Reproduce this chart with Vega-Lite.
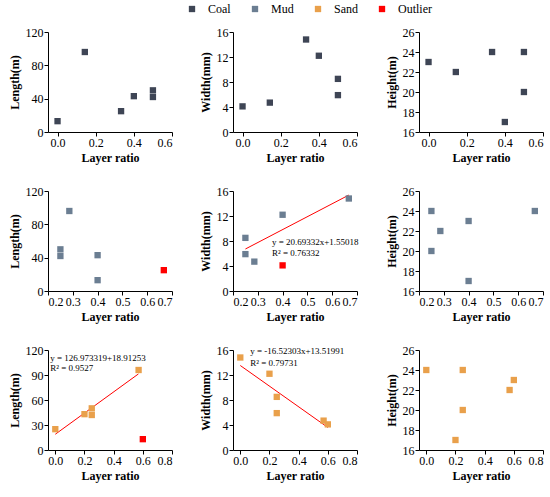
{
  "$schema": "https://vega.github.io/schema/vega-lite/v6.json",
  "padding": {"left": 8, "top": 3, "right": 4, "bottom": 4},
  "datasets": {
    "pts": [
      {"p": "a", "x": 0, "y": 13, "cls": "Coal"},
      {"p": "a", "x": 0.143, "y": 96, "cls": "Coal"},
      {"p": "a", "x": 0.333, "y": 25, "cls": "Coal"},
      {"p": "a", "x": 0.4, "y": 43, "cls": "Coal"},
      {"p": "a", "x": 0.5, "y": 50, "cls": "Coal"},
      {"p": "a", "x": 0.5, "y": 42, "cls": "Coal"},
      {"p": "b", "x": 0, "y": 4.1, "cls": "Coal"},
      {"p": "b", "x": 0.143, "y": 4.7, "cls": "Coal"},
      {"p": "b", "x": 0.333, "y": 14.8, "cls": "Coal"},
      {"p": "b", "x": 0.4, "y": 12.2, "cls": "Coal"},
      {"p": "b", "x": 0.5, "y": 8.5, "cls": "Coal"},
      {"p": "b", "x": 0.5, "y": 5.9, "cls": "Coal"},
      {"p": "c", "x": 0, "y": 23, "cls": "Coal"},
      {"p": "c", "x": 0.143, "y": 22, "cls": "Coal"},
      {"p": "c", "x": 0.333, "y": 24, "cls": "Coal"},
      {"p": "c", "x": 0.4, "y": 17, "cls": "Coal"},
      {"p": "c", "x": 0.5, "y": 24, "cls": "Coal"},
      {"p": "c", "x": 0.5, "y": 20, "cls": "Coal"},
      {"p": "d", "x": 0.25, "y": 50, "cls": "Mud"},
      {"p": "d", "x": 0.25, "y": 42, "cls": "Mud"},
      {"p": "d", "x": 0.286, "y": 96, "cls": "Mud"},
      {"p": "d", "x": 0.4, "y": 43, "cls": "Mud"},
      {"p": "d", "x": 0.4, "y": 13, "cls": "Mud"},
      {"p": "d", "x": 0.667, "y": 25, "cls": "Outlier"},
      {"p": "e", "x": 0.25, "y": 8.5, "cls": "Mud"},
      {"p": "e", "x": 0.25, "y": 5.9, "cls": "Mud"},
      {"p": "e", "x": 0.286, "y": 4.7, "cls": "Mud"},
      {"p": "e", "x": 0.4, "y": 12.2, "cls": "Mud"},
      {"p": "e", "x": 0.667, "y": 14.8, "cls": "Mud"},
      {"p": "e", "x": 0.4, "y": 4.1, "cls": "Outlier"},
      {"p": "f", "x": 0.25, "y": 24, "cls": "Mud"},
      {"p": "f", "x": 0.25, "y": 20, "cls": "Mud"},
      {"p": "f", "x": 0.286, "y": 22, "cls": "Mud"},
      {"p": "f", "x": 0.4, "y": 23, "cls": "Mud"},
      {"p": "f", "x": 0.4, "y": 17, "cls": "Mud"},
      {"p": "f", "x": 0.667, "y": 24, "cls": "Mud"},
      {"p": "g", "x": 0, "y": 25, "cls": "Sand"},
      {"p": "g", "x": 0.2, "y": 43, "cls": "Sand"},
      {"p": "g", "x": 0.25, "y": 50, "cls": "Sand"},
      {"p": "g", "x": 0.25, "y": 42, "cls": "Sand"},
      {"p": "g", "x": 0.571, "y": 96, "cls": "Sand"},
      {"p": "g", "x": 0.6, "y": 13, "cls": "Outlier"},
      {"p": "h", "x": 0, "y": 14.8, "cls": "Sand"},
      {"p": "h", "x": 0.2, "y": 12.2, "cls": "Sand"},
      {"p": "h", "x": 0.25, "y": 8.5, "cls": "Sand"},
      {"p": "h", "x": 0.25, "y": 5.9, "cls": "Sand"},
      {"p": "h", "x": 0.571, "y": 4.7, "cls": "Sand"},
      {"p": "h", "x": 0.6, "y": 4.1, "cls": "Sand"},
      {"p": "i", "x": 0, "y": 24, "cls": "Sand"},
      {"p": "i", "x": 0.2, "y": 17, "cls": "Sand"},
      {"p": "i", "x": 0.25, "y": 24, "cls": "Sand"},
      {"p": "i", "x": 0.25, "y": 20, "cls": "Sand"},
      {"p": "i", "x": 0.571, "y": 22, "cls": "Sand"},
      {"p": "i", "x": 0.6, "y": 23, "cls": "Sand"}
    ],
    "fits": [
      {"p": "e", "x": 0.25, "y": 6.72},
      {"p": "e", "x": 0.667, "y": 15.35},
      {"p": "g", "x": 0, "y": 18.9},
      {"p": "g", "x": 0.57, "y": 91.3},
      {"p": "h", "x": 0, "y": 13.52},
      {"p": "h", "x": 0.6, "y": 3.61}
    ],
    "notes": [
      {"p": "e", "x": 0.357, "y": 7.84, "t": "y = 20.69332x+1.55018"},
      {"p": "e", "x": 0.357, "y": 6.08, "t": "R² = 0.76332"},
      {"p": "g", "x": -0.035, "y": 111, "t": "y = 126.973319+18.91253"},
      {"p": "g", "x": -0.035, "y": 98, "t": "R² = 0.9527"},
      {"p": "h", "x": 0.068, "y": 15.8, "t": "y = -16.52303x+13.51991"},
      {"p": "h", "x": 0.068, "y": 14.0, "t": "R² = 0.79731"}
    ]
  },
  "columns": 3,
  "spacing": {"row": 22, "column": 26},
  "concat": [
    {
      "width": 124, "height": 100,
      "encoding": {
        "x": {"field": "x", "type": "quantitative", "scale": {"domain": [-0.05, 0.6]}, "axis": {"values": [0, 0.2, 0.4, 0.6], "format": ".1f"}, "title": "Layer ratio"},
        "y": {"field": "y", "type": "quantitative", "scale": {"domain": [0, 120]}, "axis": {"values": [0, 40, 80, 120]}, "title": "Length(m)"}
      },
      "layer": [
        {"data": {"name": "pts"}, "transform": [{"filter": "datum.p == 'a'"}],
         "mark": {"type": "point", "shape": "square", "filled": true, "opacity": 1, "size": 40},
         "encoding": {"color": {"field": "cls", "type": "nominal", "scale": {"domain": ["Coal", "Mud", "Sand", "Outlier"], "range": ["#3e4555", "#6b7e92", "#e9a04b", "#ff0000"]}, "title": null}}}
      ]
    },
    {
      "width": 124, "height": 100,
      "encoding": {
        "x": {"field": "x", "type": "quantitative", "scale": {"domain": [-0.05, 0.6]}, "axis": {"values": [0, 0.2, 0.4, 0.6], "format": ".1f"}, "title": "Layer ratio"},
        "y": {"field": "y", "type": "quantitative", "scale": {"domain": [0, 16]}, "axis": {"values": [0, 4, 8, 12, 16]}, "title": "Width(mm)"}
      },
      "layer": [
        {"data": {"name": "pts"}, "transform": [{"filter": "datum.p == 'b'"}],
         "mark": {"type": "point", "shape": "square", "filled": true, "opacity": 1, "size": 40},
         "encoding": {"color": {"field": "cls", "type": "nominal", "title": null}}}
      ]
    },
    {
      "width": 124, "height": 100,
      "encoding": {
        "x": {"field": "x", "type": "quantitative", "scale": {"domain": [-0.05, 0.6]}, "axis": {"values": [0, 0.2, 0.4, 0.6], "format": ".1f"}, "title": "Layer ratio"},
        "y": {"field": "y", "type": "quantitative", "scale": {"domain": [16, 26]}, "axis": {"values": [16, 18, 20, 22, 24, 26]}, "title": "Height(m)"}
      },
      "layer": [
        {"data": {"name": "pts"}, "transform": [{"filter": "datum.p == 'c'"}],
         "mark": {"type": "point", "shape": "square", "filled": true, "opacity": 1, "size": 40},
         "encoding": {"color": {"field": "cls", "type": "nominal", "title": null}}}
      ]
    },
    {
      "width": 124, "height": 100,
      "encoding": {
        "x": {"field": "x", "type": "quantitative", "scale": {"domain": [0.2, 0.7]}, "axis": {"values": [0.2, 0.3, 0.4, 0.5, 0.6, 0.7], "format": ".1f"}, "title": "Layer ratio"},
        "y": {"field": "y", "type": "quantitative", "scale": {"domain": [0, 120]}, "axis": {"values": [0, 40, 80, 120]}, "title": "Length(m)"}
      },
      "layer": [
        {"data": {"name": "pts"}, "transform": [{"filter": "datum.p == 'd'"}],
         "mark": {"type": "point", "shape": "square", "filled": true, "opacity": 1, "size": 40},
         "encoding": {"color": {"field": "cls", "type": "nominal", "title": null}}}
      ]
    },
    {
      "width": 124, "height": 100,
      "encoding": {
        "x": {"field": "x", "type": "quantitative", "scale": {"domain": [0.2, 0.7]}, "axis": {"values": [0.2, 0.3, 0.4, 0.5, 0.6, 0.7], "format": ".1f"}, "title": "Layer ratio"},
        "y": {"field": "y", "type": "quantitative", "scale": {"domain": [0, 16]}, "axis": {"values": [0, 4, 8, 12, 16]}, "title": "Width(mm)"}
      },
      "layer": [
        {"data": {"name": "fits"}, "transform": [{"filter": "datum.p == 'e'"}],
         "mark": {"type": "line", "color": "#ff0000", "strokeWidth": 1}},
        {"data": {"name": "pts"}, "transform": [{"filter": "datum.p == 'e'"}],
         "mark": {"type": "point", "shape": "square", "filled": true, "opacity": 1, "size": 40},
         "encoding": {"color": {"field": "cls", "type": "nominal", "title": null}}},
        {"data": {"name": "notes"}, "transform": [{"filter": "datum.p == 'e'"}],
         "mark": {"type": "text", "align": "left", "baseline": "middle", "font": "Liberation Serif", "fontSize": 9, "color": "black"},
         "encoding": {"text": {"field": "t"}}}
      ]
    },
    {
      "width": 124, "height": 100,
      "encoding": {
        "x": {"field": "x", "type": "quantitative", "scale": {"domain": [0.2, 0.7]}, "axis": {"values": [0.2, 0.3, 0.4, 0.5, 0.6, 0.7], "format": ".1f"}, "title": "Layer ratio"},
        "y": {"field": "y", "type": "quantitative", "scale": {"domain": [16, 26]}, "axis": {"values": [16, 18, 20, 22, 24, 26]}, "title": "Height(m)"}
      },
      "layer": [
        {"data": {"name": "pts"}, "transform": [{"filter": "datum.p == 'f'"}],
         "mark": {"type": "point", "shape": "square", "filled": true, "opacity": 1, "size": 40},
         "encoding": {"color": {"field": "cls", "type": "nominal", "title": null}}}
      ]
    },
    {
      "width": 124, "height": 100,
      "encoding": {
        "x": {"field": "x", "type": "quantitative", "scale": {"domain": [-0.05, 0.8]}, "axis": {"values": [0, 0.2, 0.4, 0.6, 0.8], "format": ".1f"}, "title": "Layer ratio"},
        "y": {"field": "y", "type": "quantitative", "scale": {"domain": [0, 120]}, "axis": {"values": [0, 30, 60, 90, 120]}, "title": "Length(m)"}
      },
      "layer": [
        {"data": {"name": "fits"}, "transform": [{"filter": "datum.p == 'g'"}],
         "mark": {"type": "line", "color": "#ff0000", "strokeWidth": 1}},
        {"data": {"name": "pts"}, "transform": [{"filter": "datum.p == 'g'"}],
         "mark": {"type": "point", "shape": "square", "filled": true, "opacity": 1, "size": 40},
         "encoding": {"color": {"field": "cls", "type": "nominal", "title": null}}},
        {"data": {"name": "notes"}, "transform": [{"filter": "datum.p == 'g'"}],
         "mark": {"type": "text", "align": "left", "baseline": "middle", "font": "Liberation Serif", "fontSize": 9, "color": "black"},
         "encoding": {"text": {"field": "t"}}}
      ]
    },
    {
      "width": 124, "height": 100,
      "encoding": {
        "x": {"field": "x", "type": "quantitative", "scale": {"domain": [-0.05, 0.8]}, "axis": {"values": [0, 0.2, 0.4, 0.6, 0.8], "format": ".1f"}, "title": "Layer ratio"},
        "y": {"field": "y", "type": "quantitative", "scale": {"domain": [0, 16]}, "axis": {"values": [0, 4, 8, 12, 16]}, "title": "Width(mm)"}
      },
      "layer": [
        {"data": {"name": "fits"}, "transform": [{"filter": "datum.p == 'h'"}],
         "mark": {"type": "line", "color": "#ff0000", "strokeWidth": 1}},
        {"data": {"name": "pts"}, "transform": [{"filter": "datum.p == 'h'"}],
         "mark": {"type": "point", "shape": "square", "filled": true, "opacity": 1, "size": 40},
         "encoding": {"color": {"field": "cls", "type": "nominal", "title": null}}},
        {"data": {"name": "notes"}, "transform": [{"filter": "datum.p == 'h'"}],
         "mark": {"type": "text", "align": "left", "baseline": "middle", "font": "Liberation Serif", "fontSize": 9, "color": "black"},
         "encoding": {"text": {"field": "t"}}}
      ]
    },
    {
      "width": 124, "height": 100,
      "encoding": {
        "x": {"field": "x", "type": "quantitative", "scale": {"domain": [-0.05, 0.8]}, "axis": {"values": [0, 0.2, 0.4, 0.6, 0.8], "format": ".1f"}, "title": "Layer ratio"},
        "y": {"field": "y", "type": "quantitative", "scale": {"domain": [16, 26]}, "axis": {"values": [16, 18, 20, 22, 24, 26]}, "title": "Height(m)"}
      },
      "layer": [
        {"data": {"name": "pts"}, "transform": [{"filter": "datum.p == 'i'"}],
         "mark": {"type": "point", "shape": "square", "filled": true, "opacity": 1, "size": 40},
         "encoding": {"color": {"field": "cls", "type": "nominal", "title": null}}}
      ]
    }
  ],
  "config": {
    "font": "Liberation Serif",
    "view": {"stroke": null},
    "axis": {
      "grid": false,
      "labelFont": "Liberation Serif",
      "labelFontSize": 12,
      "labelColor": "black",
      "labelPadding": 1,
      "titleFont": "Liberation Serif",
      "titleFontSize": 12,
      "titleFontWeight": "bold",
      "titleColor": "black",
      "titlePadding": 4,
      "domainColor": "black",
      "tickColor": "black",
      "tickSize": 4
    },
    "legend": {
      "orient": "none",
      "legendX": 138,
      "legendY": -29,
      "direction": "horizontal",
      "symbolType": "square",
      "symbolSize": 40,
      "labelFont": "Liberation Serif",
      "labelFontSize": 12,
      "labelColor": "black",
      "labelOffset": 10,
      "columnPadding": 18
    }
  }
}
